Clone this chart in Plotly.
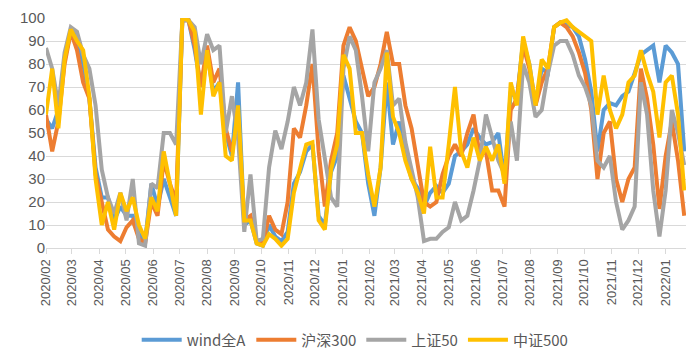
import pandas as pd
import plotly.graph_objects as go

dates = pd.date_range("2020-02-01", periods=104, freq="7D")

wind_all_a = [56, 52, 60, 82, 94, 92, 80, 65, 35, 22, 22, 12, 18, 14, 14, 6,
              3, 28, 18, 30, 22, 14, 99, 99, 86, 70, 85, 68, 72, 50, 40, 72,
              10, 12, 2, 1, 10, 5, 3, 7, 28, 33, 42, 45, 14, 10, 33, 40,
              75, 65, 55, 50, 28, 14, 35, 72, 45, 55, 40, 30, 26, 18, 24, 27,
              24, 28, 40, 42, 45, 52, 48, 45, 46, 50, 30, 68, 65, 90, 80, 62,
              78, 76, 96, 98, 97, 96, 92, 82, 68, 42, 60, 63, 62, 66, 68, 76,
              84, 86, 88, 72, 88, 85, 80, 42]
hs300 = [58, 42, 55, 80, 94, 86, 72, 65, 32, 20, 8, 5, 3, 9, 12, 4,
         2, 20, 14, 38, 28, 20, 99, 99, 88, 70, 88, 72, 78, 52, 42, 55,
         12, 14, 3, 2, 14, 8, 6, 20, 52, 48, 62, 80, 42, 18, 38, 50,
         88, 96, 90, 78, 66, 70, 80, 94, 80, 80, 62, 52, 35, 20, 18, 20,
         32, 40, 45, 40, 50, 58, 40, 42, 25, 25, 18, 60, 65, 88, 78, 62,
         72, 78, 96, 98, 96, 92, 85, 76, 60, 30, 50, 55, 30, 20, 30, 35,
         78, 65, 45, 17, 40, 55, 38, 14]
sz50 = [87, 78, 62, 85, 96, 94, 84, 78, 62, 34, 22, 15, 24, 12, 30, 2,
        1, 28, 26, 50, 50, 45, 99, 99, 96, 80, 93, 86, 88, 50, 66, 48,
        7, 32, 3, 4, 35, 51, 43, 55, 70, 62, 72, 95, 56, 38, 22, 18,
        78, 92, 86, 66, 42, 72, 78, 86, 62, 65, 46, 34, 22, 3, 4, 4,
        7, 9, 20, 12, 14, 25, 38, 58, 48, 38, 32, 55, 38, 80, 72, 57,
        60, 76, 88, 90, 90, 84, 75, 70, 62, 38, 35, 40, 20, 8, 12, 18,
        72, 58, 25, 5, 25, 60, 50, 36]
zz500 = [58, 78, 52, 82, 95, 90, 86, 66, 30, 10, 20, 8, 24, 16, 22, 10,
         4, 22, 16, 42, 28, 14, 100, 99, 94, 58, 86, 66, 72, 40, 38, 62,
         12, 12, 2, 1, 6, 4, 1, 4, 24, 35, 45, 46, 12, 8, 34, 45,
         84, 78, 50, 50, 32, 18, 35, 85, 57, 50, 38, 30, 24, 15, 44, 22,
         22, 45, 70, 42, 35, 48, 38, 44, 38, 45, 28, 72, 62, 92, 80, 62,
         82, 78, 96, 98, 99, 96, 94, 92, 90, 58, 75, 60, 52, 58, 72, 75,
         86, 76, 68, 48, 72, 75, 58, 25]

series = [
    ("wind全A", wind_all_a, "#5B9BD5"),
    ("沪深300", hs300, "#ED7D31"),
    ("上证50", sz50, "#A5A5A5"),
    ("中证500", zz500, "#FFC000"),
]

fig = go.Figure()
for name, vals, color in series:
    fig.add_trace(go.Scatter(x=dates, y=vals, name=name, mode="lines",
                             line=dict(color=color, width=4)))

fig.update_layout(
    width=700, height=359,
    margin=dict(l=38, r=22, t=10, b=119, autoexpand=False),
    paper_bgcolor="white", plot_bgcolor="white",
    font=dict(family="Liberation Sans, Noto Sans CJK SC", color="#595959", size=14),
    showlegend=True,
    legend=dict(orientation="h", xref="container", yref="container",
                x=0.496, xanchor="center", y=0.075, yanchor="middle",
                font=dict(size=15, family="Noto Sans CJK SC"), itemwidth=40,
                traceorder="normal"),
)
fig.update_xaxes(
    type="date", range=["2020-02-01", "2022-01-24"],
    tick0="2020-02-01", dtick="M1", tickformat="%Y/%m", tickangle=-90,
    ticks="outside", ticklen=5, tickcolor="#D9D9D9",
    showline=True, linecolor="#D9D9D9", linewidth=1,
    showgrid=False, zeroline=False, tickfont=dict(size=13), automargin=False,
)
fig.update_yaxes(
    range=[0, 100], dtick=10, showgrid=True, gridcolor="#D9D9D9",
    zeroline=False, showline=False, tickfont=dict(size=15), automargin=False,
)

fig.write_html("out.html")
